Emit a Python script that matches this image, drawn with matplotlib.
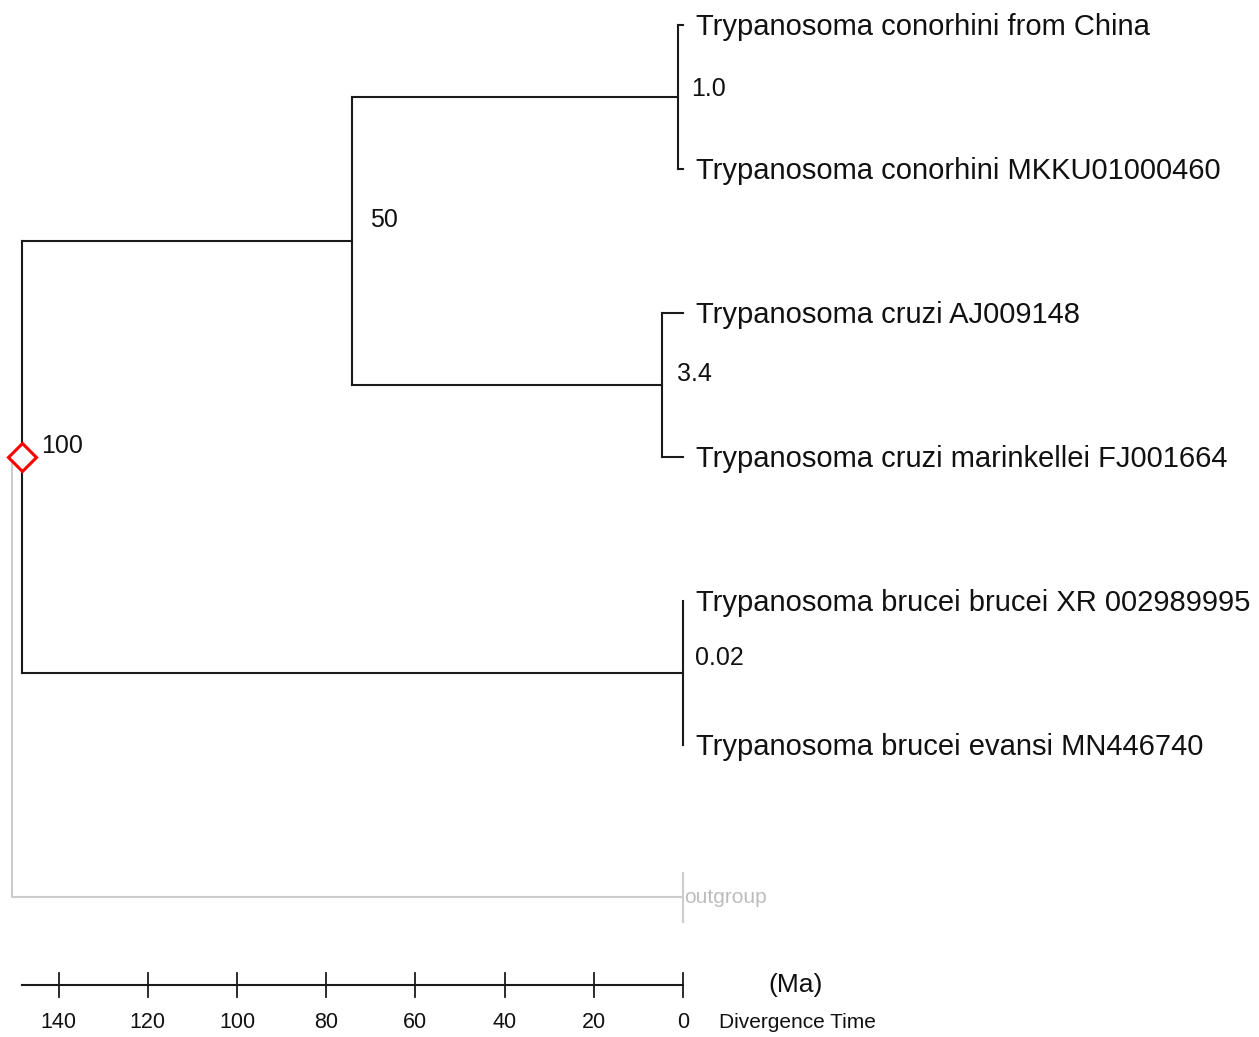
import matplotlib
matplotlib.use("Agg")
import matplotlib.pyplot as plt

plt.rcParams['font.family'] = ['Liberation Sans', 'DejaVu Sans']

# ---- data ----
leaf_names = [
    "Trypanosoma conorhini from China",
    "Trypanosoma conorhini MKKU01000460",
    "Trypanosoma cruzi AJ009148",
    "Trypanosoma cruzi marinkellei FJ001664",
    "Trypanosoma brucei brucei XR 002989995",
    "Trypanosoma brucei evansi MN446740",
]
outgroup_name = "outgroup"
# internal nodes: (name, age in Ma, children)
node_ages = {"conorhini": 1.2, "cruzi": 4.8, "brucei": 0.02, "A": 74.2, "root": 148.2}
node_children = {
    "conorhini": [0, 1],
    "cruzi": [2, 3],
    "brucei": [4, 5],
    "A": ["conorhini", "cruzi"],
    "root": ["A", "brucei"],
}
node_labels = {"conorhini": "1.0", "cruzi": "3.4", "brucei": "0.02", "A": "50", "root": "100"}
outgroup_age = 150.4
scale_ticks = [140, 120, 100, 80, 60, 40, 20, 0]

# ---- layout ----
W, H, DPI = 1259, 1037, 100
fig = plt.figure(figsize=(W / DPI, H / DPI), dpi=DPI)
ax = fig.add_axes([0, 0, 1, 1])
px_per_ma = 4.46
x0_px = 683
ax.set_xlim(x0_px / px_per_ma, (x0_px - W) / px_per_ma)
ax.set_ylim((H - 25) / 144, -25 / 144)
ax.axis("off")

LC = "#1a1a1a"
LW = 1.5

def ypos(n):
    if isinstance(n, int):
        return float(n)
    ch = node_children[n]
    return (ypos(ch[0]) + ypos(ch[-1])) / 2

def age(n):
    return 0.0 if isinstance(n, int) else node_ages[n]

def draw(n):
    if isinstance(n, int):
        return
    t = node_ages[n]
    ys = [ypos(c) for c in node_children[n]]
    ax.plot([t, t], [min(ys), max(ys)], color=LC, lw=LW, solid_capstyle="projecting")
    for c, yc in zip(node_children[n], ys):
        ax.plot([t, age(c)], [yc, yc], color=LC, lw=LW, solid_capstyle="projecting")
        draw(c)

draw("root")

# leaf labels
for i, name in enumerate(leaf_names):
    ax.annotate(name, (0, i), xytext=(9, -1.5), textcoords="offset points",
                ha="left", va="center", fontsize=21, color="#111111")

# node labels
label_offsets = {"conorhini": (10, 6), "cruzi": (11, 8), "brucei": (9, 11),
                 "A": (13, 15), "root": (14, 8)}
for n, lab in node_labels.items():
    dx, dy = label_offsets[n]
    ax.annotate(lab, (node_ages[n], ypos(n)), xytext=(dx, dy), textcoords="offset points",
                ha="left", va="center", fontsize=18, color="#111111")

# outgroup
yo = 6.0556
yroot = ypos("root")
ax.plot([outgroup_age, outgroup_age, 0], [yroot, yo, yo], color="#cccccc", lw=1.5, zorder=1)
ax.plot([0, 0], [yo - 0.167, yo + 0.174], color="#cccccc", lw=1.5, zorder=1)
ax.annotate(outgroup_name, (0, yo), xytext=(1, -0.5), textcoords="offset points",
            ha="left", va="center", fontsize=15, color="#bdbdbd")

# root marker
ax.plot([node_ages["root"]], [yroot], marker="D", ms=14.5, mfc="white", mec="#ff0000",
        mew=2.2, zorder=5)

# scale bar
ysb = 6.667
ax.plot([node_ages["root"], 0], [ysb, ysb], color=LC, lw=1.5)
for t in scale_ticks:
    ax.plot([t, t], [ysb - 0.083, ysb + 0.083], color=LC, lw=1.3)
    ax.text(t, 6.93, str(t), ha="center", va="center", fontsize=15.5, color="#111111")
ax.text(-25.2, 6.665, "(Ma)", ha="center", va="center", fontsize=19, color="#111111")
ax.text(-8.1, 6.93, "Divergence Time", ha="left", va="center", fontsize=15, color="#111111")

fig.savefig("out.png", dpi=DPI, facecolor="white")
